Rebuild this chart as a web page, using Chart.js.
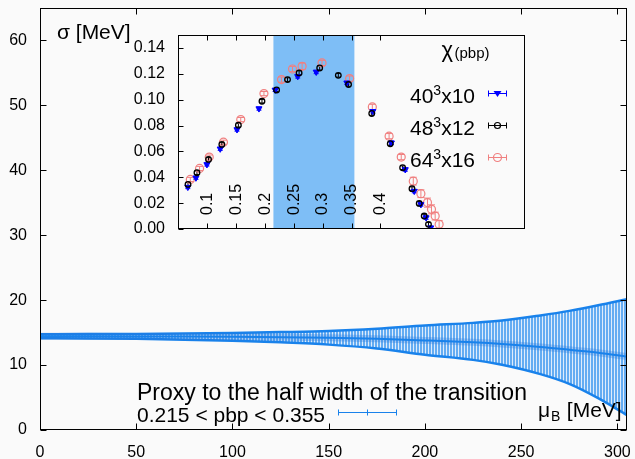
<!DOCTYPE html>
<html>
<head>
<meta charset="utf-8">
<script src="https://cdn.jsdelivr.net/npm/chart.js@4.4.1/dist/chart.umd.min.js"></script>
<style>
html,body{margin:0;padding:0;background:#fafafa;overflow:hidden;}
#wrap{position:relative;width:635px;height:459px;}
canvas{position:absolute;display:block;}
#main{left:0;top:0;}
#inset{left:120px;top:20px;}
</style>
</head>
<body>
<div id="wrap">
<canvas id="main" width="635" height="459"></canvas>
<canvas id="inset" width="420" height="230"></canvas>
</div>
<script>
// ---------- Main chart: sigma [MeV] vs mu_B [MeV] ----------
const muB      = [0, 25, 50, 75, 100, 125, 150, 175, 200, 225, 240, 260, 275, 290, 305];
const sigmaMid = [14.45, 14.44, 14.42, 14.39, 14.35, 14.29, 14.2, 14.05, 13.8, 13.5, 13.25, 12.8, 12.35, 11.9, 11.3];
const sigmaHi  = [14.75, 14.77, 14.8, 14.86, 14.95, 15.08, 15.25, 15.6, 16.1, 16.5, 16.85, 17.65, 18.35, 19.2, 20.15];
const sigmaLo  = [14.15, 14.11, 14.04, 13.92, 13.75, 13.5, 13.15, 12.55, 11.6, 10.8, 10.05, 8.6, 7.1, 4.9, 2.3];
const mainXTicks = [0, 50, 100, 150, 200, 250, 300];
const mainYTicks = [0, 10, 20, 30, 40, 50, 60];

// ---------- Inset: chi(pbp) ----------
const blueX   = [0.067, 0.081, 0.100, 0.123, 0.152, 0.190, 0.218, 0.257, 0.289, 0.342, 0.387, 0.419, 0.443, 0.4585, 0.470, 0.479, 0.487];
const blueY   = [0.0324, 0.0396, 0.0499, 0.062, 0.0769, 0.0931, 0.1075, 0.118, 0.1214, 0.113, 0.091, 0.0667, 0.046, 0.0293, 0.019, 0.0088, 0.001];
const blueErr = [0.0012, 0.0012, 0.0012, 0.0012, 0.0012, 0.0012, 0.0012, 0.0013, 0.0013, 0.0013, 0.0013, 0.0013, 0.0013, 0.0013, 0.0013, 0.0013, 0.0012];

const blackX   = [0.0673, 0.0828, 0.1028, 0.1258, 0.1544, 0.1952, 0.2205, 0.2394, 0.2594, 0.295, 0.3272, 0.3449, 0.385, 0.417, 0.4384, 0.4546, 0.4671, 0.4757, 0.4831];
const blackY   = [0.0345, 0.0435, 0.0538, 0.0654, 0.0803, 0.0988, 0.1075, 0.1155, 0.1207, 0.1245, 0.1188, 0.1117, 0.0893, 0.0659, 0.0474, 0.0312, 0.0198, 0.0100, 0.0036];
const blackErr = [0.0014, 0.0014, 0.0014, 0.0014, 0.0014, 0.0014, 0.0014, 0.0014, 0.0016, 0.0016, 0.0014, 0.0014, 0.0014, 0.0014, 0.0014, 0.0014, 0.0014, 0.0014, 0.0014];

const pinkX   = [0.0713, 0.0873, 0.104, 0.1286, 0.1585, 0.1986, 0.229, 0.248, 0.2646, 0.299, 0.3467, 0.386, 0.415, 0.436, 0.4568, 0.470, 0.4814, 0.4883, 0.4947, 0.5015];
const pinkY   = [0.0383, 0.0468, 0.0556, 0.0671, 0.0846, 0.1047, 0.1155, 0.1237, 0.1258, 0.1284, 0.1163, 0.0944, 0.0718, 0.0556, 0.037, 0.0273, 0.0204, 0.0152, 0.010, 0.0036];
const pinkErr = [0.0016, 0.0016, 0.0016, 0.0016, 0.0016, 0.0016, 0.002, 0.002, 0.0025, 0.002, 0.002, 0.002, 0.002, 0.002, 0.003, 0.003, 0.0035, 0.0035, 0.003, 0.003];

const insetXTicks = [0.1, 0.15, 0.2, 0.25, 0.3, 0.35, 0.4];
const insetYTicks = [0, 0.02, 0.04, 0.06, 0.08, 0.10, 0.12, 0.14];
const shadeRange  = [0.215, 0.355];
const legendLabels = [['40', '3', 'x10'], ['48', '3', 'x12'], ['64', '3', 'x16']];

const FONT = "'Liberation Sans', Arial, Helvetica, sans-serif";
const BAND = 'rgb(25,130,235)';
const BLUE = '#0000ff', BLACK = '#000000', PINK = '#f08080';
Chart.defaults.font.family = FONT;
Chart.defaults.color = '#000';

function pts(xs, ys) { return xs.map((v, i) => ({x: v, y: ys[i]})); }
function noPad(s) { s.paddingTop = 0; s.paddingBottom = 0; s.paddingLeft = 0; s.paddingRight = 0; }

// stripe pattern imitating the dense vertical error bars
function stripePattern() {
  const c = document.createElement('canvas'); c.width = 3; c.height = 4;
  const g = c.getContext('2d');
  g.fillStyle = 'rgb(100,172,242)'; g.fillRect(0, 0, 3, 4);
  g.fillStyle = 'rgb(222,236,252)'; g.fillRect(2, 0, 1, 4);
  return document.getElementById('main').getContext('2d').createPattern(c, 'repeat');
}

const mainDecor = {
  id: 'mainDecor',
  afterDraw(chart) {
    const {ctx, chartArea: a, scales: {x, y}} = chart;
    ctx.save();
    ctx.strokeStyle = '#000'; ctx.lineWidth = 1;
    const L = Math.round(a.left) + 0.5, R = Math.round(a.right) - 0.5, T = Math.round(a.top) + 0.5, B = Math.round(a.bottom) - 0.5;
    ctx.strokeRect(L, T, R - L, B - T);
    ctx.beginPath();
    y.ticks.forEach(t => { const p = Math.round(y.getPixelForValue(t.value)) + 0.5; ctx.moveTo(L, p); ctx.lineTo(L + 6, p); ctx.moveTo(R, p); ctx.lineTo(R - 6, p); });
    x.ticks.forEach(t => { const p = Math.round(x.getPixelForValue(t.value)) + 0.5; ctx.moveTo(p, B); ctx.lineTo(p, B - 6); ctx.moveTo(p, T); ctx.lineTo(p, T + 6); });
    ctx.stroke();
    // axis labels
    ctx.fillStyle = '#000'; ctx.textBaseline = 'alphabetic'; ctx.textAlign = 'left';
    ctx.font = '21px ' + FONT;
    ctx.fillText('σ [MeV]', 57, 39);
    ctx.fillText('μ', 538, 416.7);
    ctx.font = '14px ' + FONT;
    ctx.fillText('B', 551, 421);
    ctx.font = '21px ' + FONT;
    ctx.fillText(' [MeV]', 561, 416.7);
    // key
    ctx.font = '23px ' + FONT;
    ctx.fillText('Proxy to the half width of the transition', 137, 400);
    ctx.font = '21px ' + FONT;
    ctx.fillText('0.215 < pbp < 0.355', 137, 421.5);
    ctx.strokeStyle = BAND; ctx.lineWidth = 1;
    ctx.beginPath();
    const ly = 412.5;
    ctx.moveTo(338, ly); ctx.lineTo(397, ly);
    [338.5, 367.5, 396.5].forEach(px => { ctx.moveTo(px, ly - 3); ctx.lineTo(px, ly + 3); });
    ctx.stroke();
    ctx.restore();
  }
};

new Chart(document.getElementById('main'), {
  type: 'line',
  data: {
    datasets: [
      {data: pts(muB, sigmaHi), borderColor: BAND, borderWidth: 2.5, pointRadius: 0, fill: false, cubicInterpolationMode: 'monotone', order: 3},
      {data: pts(muB, sigmaLo), borderColor: BAND, borderWidth: 2.5, pointRadius: 0, fill: '-1', backgroundColor: stripePattern(), cubicInterpolationMode: 'monotone', order: 2},
      {data: pts(muB, sigmaMid), borderColor: 'rgba(40,120,220,0.3)', borderWidth: 7, pointRadius: 0, fill: false, cubicInterpolationMode: 'monotone', order: 1},
      {data: pts(muB, sigmaMid), borderColor: BAND, borderWidth: 2, pointRadius: 0, fill: false, cubicInterpolationMode: 'monotone', order: 0}
    ]
  },
  options: {
    responsive: false, animation: false, events: [],
    layout: {padding: {top: 8, right: 8, left: 0, bottom: 0}},
    plugins: {legend: {display: false}, tooltip: {enabled: false}, filler: {drawTime: 'beforeDatasetsDraw'}},
    scales: {
      x: {type: 'linear', min: 0, max: 305,
          afterBuildTicks: s => { s.ticks = mainXTicks.map(v => ({value: v})); },
          afterFit: s => { s.height = 29; noPad(s); },
          grid: {display: false, drawTicks: false}, border: {display: false},
          ticks: {font: {size: 16}, color: '#000', padding: 13, maxRotation: 0, autoSkip: false}},
      y: {type: 'linear', min: 0, max: 65,
          afterBuildTicks: s => { s.ticks = mainYTicks.map(v => ({value: v})); },
          afterFit: s => { s.width = 40; noPad(s); },
          grid: {display: false, drawTicks: false}, border: {display: false},
          ticks: {font: {size: 16}, color: '#000', padding: 13, autoSkip: false}}
    }
  },
  plugins: [mainDecor]
});

// ---------- inset ----------
function drawErr(ctx, x, y, xs, ys, es, color, cap) {
  ctx.strokeStyle = color; ctx.lineWidth = 1; ctx.beginPath();
  for (let i = 0; i < xs.length; i++) {
    const px = x.getPixelForValue(xs[i]);
    const p1 = y.getPixelForValue(Math.max(0, ys[i] - es[i])), p2 = y.getPixelForValue(ys[i] + es[i]);
    ctx.moveTo(px, p1); ctx.lineTo(px, p2);
    ctx.moveTo(px - cap, p1); ctx.lineTo(px + cap, p1);
    ctx.moveTo(px - cap, p2); ctx.lineTo(px + cap, p2);
  }
  ctx.stroke();
}

function legendMarker(ctx, kind, cx, cy) {
  ctx.beginPath();
  if (kind === 0) {
    ctx.fillStyle = BLUE;
    ctx.moveTo(cx - 4, cy - 2.5); ctx.lineTo(cx + 4, cy - 2.5); ctx.lineTo(cx, cy + 3.5); ctx.closePath(); ctx.fill();
  } else if (kind === 1) {
    ctx.strokeStyle = BLACK; ctx.lineWidth = 1.2;
    ctx.arc(cx, cy, 3, 0, Math.PI * 2); ctx.stroke();
  } else {
    ctx.strokeStyle = PINK; ctx.lineWidth = 1.2;
    ctx.arc(cx, cy, 4, 0, Math.PI * 2); ctx.stroke();
  }
}

const insetDecor = {
  id: 'insetDecor',
  beforeDatasetsDraw(chart) {
    const {ctx, chartArea: a, scales: {x, y}} = chart;
    ctx.save();
    const s0 = x.getPixelForValue(shadeRange[0]), s1 = x.getPixelForValue(shadeRange[1]);
    ctx.fillStyle = 'rgb(126,190,246)';
    ctx.fillRect(s0, a.top, s1 - s0, a.bottom - a.top);
    ctx.beginPath(); ctx.rect(a.left, a.top, a.right - a.left, a.bottom - a.top); ctx.clip();
    drawErr(ctx, x, y, pinkX, pinkY, pinkErr, PINK, 3.5);
    drawErr(ctx, x, y, blueX, blueY, blueErr, BLUE, 2.5);
    drawErr(ctx, x, y, blackX, blackY, blackErr, BLACK, 2);
    ctx.restore();
  },
  afterDraw(chart) {
    const {ctx, chartArea: a, scales: {x, y}} = chart;
    ctx.save();
    ctx.strokeStyle = '#000'; ctx.lineWidth = 1;
    const L = Math.round(a.left) + 0.5, R = Math.round(a.right) - 0.5, T = Math.round(a.top) + 0.5, B = Math.round(a.bottom) - 0.5;
    ctx.strokeRect(L, T, R - L, B - T);
    ctx.beginPath();
    y.ticks.forEach(t => { const p = Math.round(y.getPixelForValue(t.value)) + 0.5; ctx.moveTo(L, p); ctx.lineTo(L + 5, p); });
    x.ticks.forEach(t => { const p = Math.round(x.getPixelForValue(t.value)) + 0.5; ctx.moveTo(p, B); ctx.lineTo(p, B - 5); ctx.moveTo(p, T); ctx.lineTo(p, T + 5); });
    ctx.stroke();
    // rotated x tick labels inside the frame
    ctx.fillStyle = '#000'; ctx.font = '16px ' + FONT;
    x.ticks.forEach(t => {
      const p = x.getPixelForValue(t.value);
      ctx.save(); ctx.translate(p, a.bottom - 14); ctx.rotate(-Math.PI / 2);
      ctx.textAlign = 'left'; ctx.textBaseline = 'middle';
      ctx.fillText(String(t.value), 0, 0.5);
      ctx.restore();
    });
    // key
    ctx.textAlign = 'left'; ctx.textBaseline = 'alphabetic';
    ctx.font = '22px ' + FONT;
    ctx.fillText('χ', 321.5, 37);
    ctx.font = '15px ' + FONT;
    ctx.fillText('(pbp)', 334.5, 37.5);
    const colors = [BLUE, BLACK, PINK];
    const baselines = [83.3, 115, 146.7];
    legendLabels.forEach((parts, i) => {
      ctx.fillStyle = '#000';
      ctx.font = '21px ' + FONT; const w0 = ctx.measureText(parts[0]).width, w2 = ctx.measureText(parts[2]).width;
      ctx.font = '14px ' + FONT; const w1 = ctx.measureText(parts[1]).width;
      let sx = 355 - (w0 + w1 + w2);
      const by = baselines[i];
      ctx.font = '21px ' + FONT; ctx.fillText(parts[0], sx, by); sx += w0;
      ctx.font = '14px ' + FONT; ctx.fillText(parts[1], sx, by - 8); sx += w1;
      ctx.font = '21px ' + FONT; ctx.fillText(parts[2], sx, by);
      const ly = Math.round(by - 10) + 0.5;
      ctx.strokeStyle = colors[i]; ctx.lineWidth = 1;
      ctx.beginPath();
      ctx.moveTo(368, ly); ctx.lineTo(387, ly);
      ctx.moveTo(368.5, ly - 3); ctx.lineTo(368.5, ly + 3);
      ctx.moveTo(386.5, ly - 3); ctx.lineTo(386.5, ly + 3);
      ctx.stroke();
      legendMarker(ctx, i, 377.5, ly);
    });
    ctx.restore();
  }
};

new Chart(document.getElementById('inset'), {
  type: 'scatter',
  data: {
    datasets: [
      {data: pts(blueX, blueY), pointStyle: 'triangle', rotation: 180, pointRadius: 3.5, backgroundColor: BLUE, borderColor: BLUE, borderWidth: 1, order: 1},
      {data: pts(blackX, blackY), pointStyle: 'circle', pointRadius: 2.8, backgroundColor: 'rgba(0,0,0,0)', borderColor: BLACK, borderWidth: 1.3, order: 0},
      {data: pts(pinkX, pinkY), pointStyle: 'circle', pointRadius: 4, backgroundColor: 'rgba(0,0,0,0)', borderColor: PINK, borderWidth: 1.2, order: 2}
    ]
  },
  options: {
    responsive: false, animation: false, events: [],
    layout: {padding: {top: 15, right: 15, left: 0, bottom: 21}},
    plugins: {legend: {display: false}, tooltip: {enabled: false}},
    scales: {
      x: {type: 'linear', min: 0.05, max: 0.65,
          afterBuildTicks: s => { s.ticks = insetXTicks.map(v => ({value: v})); },
          afterFit: s => { s.height = 0; noPad(s); },
          grid: {display: false, drawTicks: false}, border: {display: false},
          ticks: {display: false}},
      y: {type: 'linear', min: 0, max: 0.15,
          afterBuildTicks: s => { s.ticks = insetYTicks.map(v => ({value: v})); },
          afterFit: s => { s.width = 58; noPad(s); },
          grid: {display: false, drawTicks: false}, border: {display: false},
          ticks: {font: {size: 16}, color: '#000', padding: 13, autoSkip: false, callback: v => Number(v).toFixed(2)}}
    }
  },
  plugins: [insetDecor]
});
</script>
</body>
</html>
